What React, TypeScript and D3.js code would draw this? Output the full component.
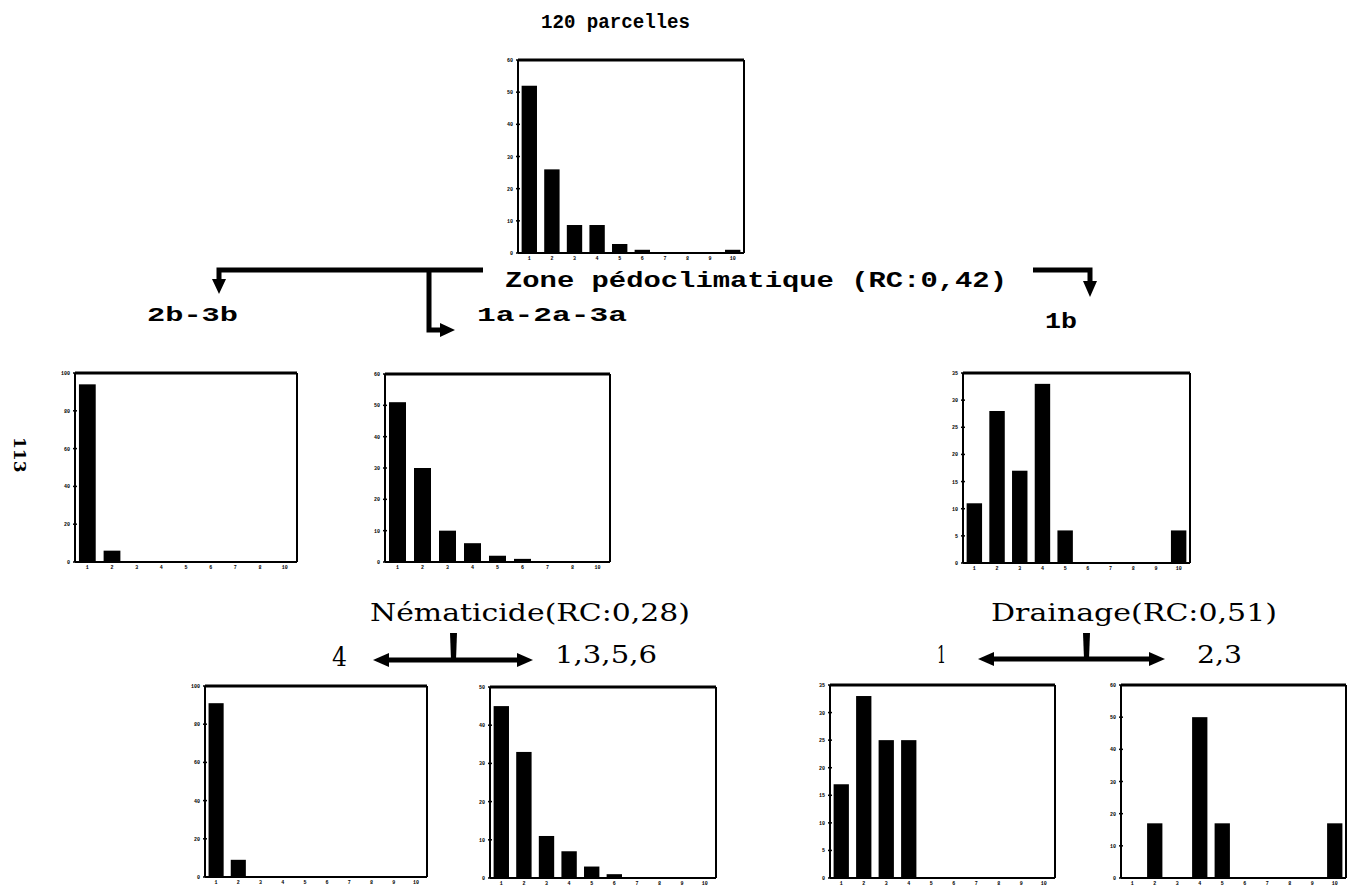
import * as d3 from "d3";

// classes de rendement (axe x) et fréquences en % (axe y)
const classes10 = ["1", "2", "3", "4", "5", "6", "7", "8", "9", "10"];
const classes9 = ["1", "2", "3", "4", "5", "6", "7", "8", "10"];

const allPlots = [52, 26, 8.7, 8.7, 2.8, 1, 0, 0, 0, 1];
const zone2b3b = [94, 6, 0, 0, 0, 0, 0, 0, 0];
const zone1a2a3a = [51, 30, 10, 6, 2, 1, 0, 0, 0];
const zone1b = [11, 28, 17, 33, 6, 0, 0, 0, 0, 6];
const nemat4 = [91, 9, 0, 0, 0, 0, 0, 0, 0, 0];
const nemat1356 = [45, 33, 11, 7, 3, 1, 0, 0, 0, 0];
const drain1 = [17, 33, 25, 25, 0, 0, 0, 0, 0, 0];
const drain23 = [0, 17, 0, 50, 17, 0, 0, 0, 0, 17];

const ticks100 = [0, 20, 40, 60, 80, 100];
const ticks60 = [0, 10, 20, 30, 40, 50, 60];
const ticks50 = [0, 10, 20, 30, 40, 50];
const ticks35 = [0, 5, 10, 15, 20, 25, 30, 35];

const panels = [
  { x: 518, y: 60, w: 226, h: 193, cats: classes10, values: allPlots, ticks: ticks60 },
  { x: 75, y: 373, w: 222, h: 189, cats: classes9, values: zone2b3b, ticks: ticks100 },
  { x: 385, y: 374, w: 225, h: 188, cats: classes9, values: zone1a2a3a, ticks: ticks60 },
  { x: 963, y: 373, w: 227, h: 190, cats: classes10, values: zone1b, ticks: ticks35 },
  { x: 205, y: 686, w: 222, h: 191, cats: classes10, values: nemat4, ticks: ticks100 },
  { x: 490, y: 687, w: 226, h: 191, cats: classes10, values: nemat1356, ticks: ticks50 },
  { x: 830, y: 685, w: 225, h: 193, cats: classes10, values: drain1, ticks: ticks35 },
  { x: 1121, y: 685, w: 225, h: 193, cats: classes10, values: drain23, ticks: ticks60 },
];

const mono = "'Liberation Mono', 'DejaVu Sans Mono', monospace";
const serif = "'DejaVu Serif', 'Liberation Serif', serif";

function Histo({ x, y, w, h, cats, values, ticks }: any) {
  const sx = d3.scaleBand().domain(cats).range([x, x + w]).paddingInner(0.32).paddingOuter(0.16);
  const sy = d3.scaleLinear().domain([0, ticks[ticks.length - 1]]).range([y + h, y]);
  return (
    <g>
      {values.map((v: number, i: number) =>
        v > 0 ? (
          <rect key={i} x={sx(cats[i])} y={sy(v)} width={sx.bandwidth()} height={sy(0) - sy(v)} fill="#000" />
        ) : null
      )}
      <line x1={x} x2={x + w} y1={y} y2={y} stroke="#000" strokeWidth={3} />
      <line x1={x} x2={x} y1={y} y2={y + h} stroke="#000" strokeWidth={2} />
      <line x1={x + w} x2={x + w} y1={y} y2={y + h} stroke="#000" strokeWidth={2} />
      <line x1={x} x2={x + w} y1={y + h} y2={y + h} stroke="#000" strokeWidth={2} />
      {ticks.map((t: number) => (
        <g key={t}>
          <line x1={x - 2} x2={x + 2} y1={sy(t)} y2={sy(t)} stroke="#000" strokeWidth={1.5} />
          <text x={x - 5} y={sy(t) + 2} fontSize={5} fontWeight="bold" textAnchor="end" fontFamily={mono}>
            {t}
          </text>
        </g>
      ))}
      {cats.map((c: string) => (
        <text key={c} x={(sx(c) as number) + sx.bandwidth() / 2} y={y + h + 7} fontSize={5}
          fontWeight="bold" textAnchor="middle" fontFamily={mono}>
          {c}
        </text>
      ))}
    </g>
  );
}

const Label = ({ x, y, len, size, font, children }: any) => (
  <text x={x} y={y} textLength={len} lengthAdjust="spacingAndGlyphs" fontSize={size}
    fontFamily={font} fontWeight={font === mono ? "bold" : "normal"} fill="#000">
    {children}
  </text>
);

export default function App() {
  const lw = 5;
  return (
    <svg width={1354} height={888} style={{ position: "absolute", left: 0, top: 0, background: "#fff" }}>
      {panels.map((p, i) => (
        <Histo key={i} {...p} />
      ))}

      <Label x={541} y={28} len={149} size={20} font={mono}>120 parcelles</Label>
      <Label x={505} y={287} len={502} size={22} font={mono}>Zone pédoclimatique (RC:0,42)</Label>
      <Label x={147} y={321} len={91} size={21} font={mono}>2b-3b</Label>
      <Label x={477} y={321} len={150} size={21} font={mono}>1a-2a-3a</Label>
      <Label x={1045} y={328} len={32} size={22} font={mono}>1b</Label>

      <Label x={370} y={621} len={320} size={24} font={serif}>Nématicide(RC:0,28)</Label>
      <Label x={991} y={621} len={286} size={24} font={serif}>Drainage(RC:0,51)</Label>
      <Label x={332} y={666} len={15} size={26} font={serif}>4</Label>
      <Label x={555} y={663} len={102} size={25} font={serif}>1,3,5,6</Label>
      <Label x={937} y={663} len={9} size={25} font={serif}>1</Label>
      <Label x={1197} y={663} len={45} size={25} font={serif}>2,3</Label>

      <text transform="translate(14,437) rotate(90)" fontSize={17} fontWeight="bold" fontFamily={serif}>113</text>

      {/* flèches des divisions */}
      <g fill="none" stroke="#000" strokeWidth={lw}>
        <polyline points="483,270 219,270 219,282" />
        <polyline points="429,270 429,330 442,330" />
        <polyline points="1033,270 1090,270 1090,283" />
        <line x1={385} x2={521} y1={660} y2={660} />
        <line x1={990} x2={1153} y1={659} y2={659} />
      </g>
      <g fill="#000">
        <polygon points="212,279 226,279 219,294" />
        <polygon points="440,323 455,330 440,337" />
        <polygon points="1083,281 1097,281 1090,297" />
        <polygon points="389,653 373,660 389,667" />
        <polygon points="517,653 533,660 517,667" />
        <polygon points="994,652 978,659 994,666" />
        <polygon points="1149,652 1165,659 1149,666" />
        <polygon points="450,633 457,633 456,660 451,660" />
        <polygon points="1083,633 1090,633 1089,659 1084,659" />
      </g>
    </svg>
  );
}
